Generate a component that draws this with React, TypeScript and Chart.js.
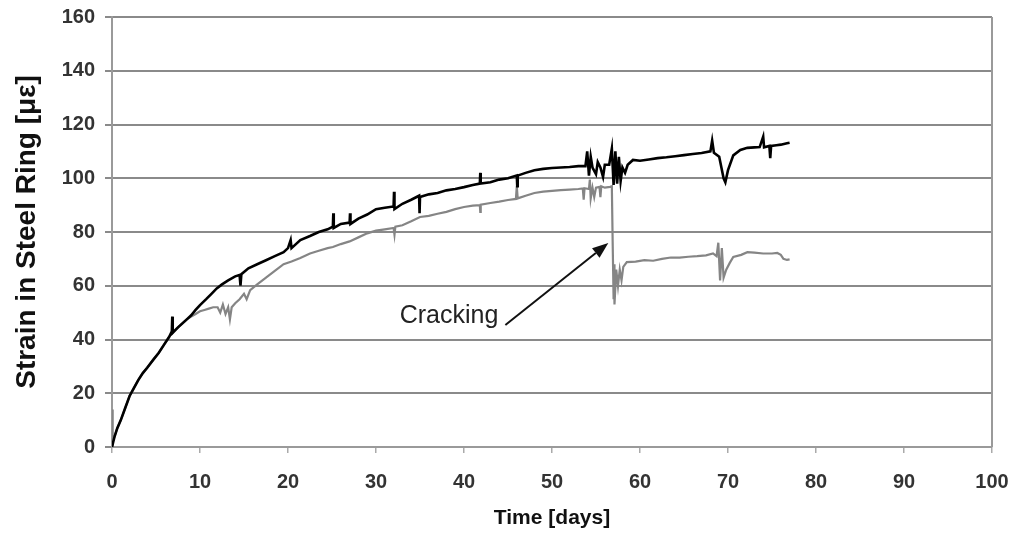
import React, { useEffect, useRef } from "react";
import { Chart, registerables } from "chart.js";

Chart.register(...registerables);

// ---- Data ----
const blackDays = [
  0, 0.3, 0.6, 1.0, 1.5, 2.0, 2.5, 3.0, 3.5, 4.0, 4.7, 5.3, 5.9, 6.5, 6.8, 6.85, 6.9, 7.5, 8.0, 8.5,
  9.0, 9.5, 10.0, 10.7, 11.3, 11.9, 12.5, 13.2, 14.0, 14.5, 14.6, 14.7, 15.5, 16.5, 17.5, 18.5, 19.5, 20.0,
  20.3, 20.4, 21.4, 22.5, 23.5, 24.5, 25.1, 25.15, 25.2, 26.0, 27.0, 27.05, 27.1, 28.0, 29.0, 30.0, 31.0,
  32.0, 32.05, 32.1, 33.0, 34.0, 34.9, 34.95, 35.0, 36.0, 37.0, 38.0, 39.0, 40.0, 41.0, 41.8, 41.85, 41.9,
  43.0, 44.0, 45.0, 46.0, 46.05, 46.1, 47.0, 48.0, 49.0, 50.0, 51.0, 52.0, 53.0, 53.8, 54.0, 54.2, 54.4,
  54.6, 55.0, 55.2, 55.5, 55.8, 56.0, 56.5, 56.8, 57.0, 57.2, 57.4, 57.6, 57.8, 58.0, 58.3, 58.6, 59.2,
  60.0, 61.0, 62.0, 63.0, 64.0, 65.0, 66.0, 67.0, 68.0, 68.2, 68.4, 69.0, 69.5, 69.7, 70.0, 70.6, 71.4,
  72.2, 73.0, 73.6, 74.0, 74.1, 74.7, 74.8, 74.9, 75.5, 76.0, 76.7, 77.0,
];
const blackStrain = [
  0, 4, 7, 10, 14.5, 19, 22, 25, 27.5, 29.5, 32.5, 35, 38, 41, 43, 48.5, 42.5, 44.5, 46, 47.5,
  49, 51, 52.8, 55, 57, 59, 60.5, 62, 63.5, 64, 60, 64.3, 66.5, 68, 69.5, 71, 72.5, 74,
  77, 74, 77, 78.5, 80, 81, 82, 87, 81.5, 83, 83.5, 87, 83, 85, 86.5, 88.5, 89,
  89.5, 95, 88.5, 90.5, 92, 93.5, 87, 93, 94, 94.5, 95.5, 96, 96.7, 97.5, 98, 102, 98,
  98.5, 99.5, 100, 101, 97, 101, 102, 103, 103.5, 103.8, 104, 104.2, 104.5, 104.5, 110, 101, 108,
  104, 101.5, 106, 104, 100.5, 105, 105, 111, 97.5, 110, 98, 108, 99, 104, 102, 105, 106.8,
  106.5, 107, 107.5, 107.8, 108.2, 108.6, 109, 109.4, 110, 114, 109.5, 108, 100, 98.5, 103, 108.5, 110.5,
  111.3, 111.5, 111.6, 115.5, 111.5, 112, 107.5, 112, 112.3, 112.5, 113, 113.2,
];

const grayDays = [
  0, 0.05, 0.1, 0.3, 0.6, 1.0, 1.5, 2.0, 2.5, 3.0, 3.5, 4.0, 4.7, 5.3, 5.9, 6.5, 7.0, 7.5, 8.0, 8.5,
  9.0, 9.5, 10.0, 10.5, 11.0, 11.5, 12.0, 12.3, 12.6, 12.9, 13.2, 13.4, 13.6, 14.0, 14.5, 15.0, 15.3, 15.7,
  16.5, 17.5, 18.5, 19.5, 20.4, 21.4, 22.5, 23.5, 24.5, 25.1, 26.0, 27.0, 28.0, 29.0, 30.0, 31.0, 32.0,
  32.1, 32.2, 33.0, 34.0, 35.0, 36.0, 37.0, 38.0, 39.0, 40.0, 41.0, 41.8, 41.85, 41.9, 43.0, 44.0, 45.0,
  45.9, 46.0, 46.1, 47.0, 48.0, 49.0, 50.0, 51.0, 52.0, 53.0, 53.5, 53.6, 53.7, 54.2, 54.3, 54.4, 54.6,
  54.8, 55.0, 55.4, 55.5, 55.6, 56.0, 56.6, 56.8, 56.9, 57.0, 57.05, 57.1, 57.3, 57.5, 57.7, 57.9, 58.1,
  58.5, 59.5, 60.5, 61.5, 62.5, 63.5, 64.5, 65.5, 66.5, 67.5, 68.3, 68.7, 68.9, 69.1, 69.3, 69.5, 69.8,
  70.2, 70.6, 71.5, 72.2, 73.0, 74.0, 75.0, 75.6, 76.0, 76.3, 76.7, 77.0,
];
const grayStrain = [
  0, 14, 2, 4, 7, 10, 14.5, 19, 22, 25, 27.5, 29.5, 32.5, 35, 38, 41, 43, 44.5, 46, 47.5,
  48.5, 49.5, 50.5, 51, 51.5, 52, 52, 50, 53, 49.5, 52, 47.5, 52, 53.5, 55, 57, 55, 58.4,
  60.5, 63, 65.5, 68, 69, 70.3, 72, 73, 74, 74.4, 75.5, 76.5, 78, 79.5, 80.5, 81, 81.5,
  79, 82, 82.5, 84, 85.6, 86, 86.8, 87.5, 88.5, 89.3, 89.8, 90, 87.5, 90.2, 90.8, 91.3, 91.9,
  92.3, 97, 92.5, 93.5, 94.5, 95, 95.3, 95.6, 95.8, 96, 96.2, 92, 96.3, 96, 99.5, 92.5, 96.5,
  93, 96.5, 96.8, 93, 97, 96.5, 96.8, 97, 75, 55, 68, 53, 66, 60, 66, 62, 67,
  68.8, 69, 69.5, 69.3, 70, 70.5, 70.5, 70.8, 71, 71.3, 72, 71, 76, 62, 74, 63, 66,
  68.5, 70.7, 71.5, 72.5, 72.3, 72, 72, 72.2, 71.5, 70, 69.6, 69.8,
];

const xTickValues = [0, 10, 20, 30, 40, 50, 60, 70, 80, 90, 100];
const yTickValues = [0, 20, 40, 60, 80, 100, 120, 140, 160];

const annotationText = "Cracking";
const annotationTextAt = { day: 43.9, value: 46.1 };
const arrowFrom = { day: 44.7, value: 45.4 };
const arrowTo = { day: 56.4, value: 75.9 };

const FONT = "'Liberation Sans', Arial, Helvetica, sans-serif";

const framePlugin = {
  id: "frameAndNote",
  beforeDatasetsDraw(chart: any) {
    const { ctx, chartArea } = chart;
    ctx.save();
    ctx.strokeStyle = "#9a9a9a";
    ctx.lineWidth = 2;
    ctx.beginPath();
    ctx.moveTo(chartArea.right, chartArea.top);
    ctx.lineTo(chartArea.right, chartArea.bottom);
    ctx.stroke();
    ctx.restore();
  },
  afterDatasetsDraw(chart: any) {
    const { ctx } = chart;
    const xs = chart.scales.x;
    const ys = chart.scales.y;
    ctx.save();
    ctx.fillStyle = "#222";
    ctx.font = `25px ${FONT}`;
    ctx.textAlign = "right";
    ctx.textBaseline = "alphabetic";
    ctx.fillText(
      annotationText,
      xs.getPixelForValue(annotationTextAt.day),
      ys.getPixelForValue(annotationTextAt.value)
    );
    const x1 = xs.getPixelForValue(arrowFrom.day);
    const y1 = ys.getPixelForValue(arrowFrom.value);
    const x2 = xs.getPixelForValue(arrowTo.day);
    const y2 = ys.getPixelForValue(arrowTo.value);
    const ang = Math.atan2(y2 - y1, x2 - x1);
    const headLen = 16;
    const headW = 6;
    const bx = x2 - headLen * Math.cos(ang);
    const by = y2 - headLen * Math.sin(ang);
    ctx.strokeStyle = "#111";
    ctx.lineWidth = 2;
    ctx.beginPath();
    ctx.moveTo(x1, y1);
    ctx.lineTo(bx, by);
    ctx.stroke();
    ctx.fillStyle = "#111";
    ctx.beginPath();
    ctx.moveTo(x2, y2);
    ctx.lineTo(bx + headW * Math.sin(ang), by - headW * Math.cos(ang));
    ctx.lineTo(bx - headW * Math.sin(ang), by + headW * Math.cos(ang));
    ctx.closePath();
    ctx.fill();
    ctx.restore();
  },
};

export default function App() {
  const canvasRef = useRef<HTMLCanvasElement | null>(null);

  useEffect(() => {
    const canvas = canvasRef.current;
    if (!canvas) return;
    const chart = new Chart(canvas, {
      type: "scatter",
      data: {
        datasets: [
          {
            label: "Ring 1",
            data: blackDays.map((d, i) => ({ x: d, y: blackStrain[i] })),
            showLine: true,
            borderColor: "#000000",
            borderWidth: 2.6,
            pointRadius: 0,
            tension: 0,
          },
          {
            label: "Ring 2",
            data: grayDays.map((d, i) => ({ x: d, y: grayStrain[i] })),
            showLine: true,
            borderColor: "#858585",
            borderWidth: 2.2,
            pointRadius: 0,
            tension: 0,
          },
        ],
      },
      options: {
        responsive: false,
        animation: false,
        devicePixelRatio: 1,
        layout: { padding: { top: 17, right: 23, left: 0, bottom: 0 } },
        plugins: {
          legend: { display: false },
          tooltip: { enabled: false },
        },
        scales: {
          x: {
            type: "linear",
            min: 0,
            max: 100,
            afterBuildTicks: (scale: any) => {
              scale.ticks = xTickValues.map((v) => ({ value: v }));
            },
            afterFit: (scale: any) => {
              scale.height = 86;
              scale.paddingLeft = 0;
              scale.paddingRight = 0;
            },
            grid: {
              drawOnChartArea: false,
              drawTicks: true,
              tickLength: 6,
              color: "#aaaaaa",
              lineWidth: 1.5,
            },
            border: { display: true, color: "#9a9a9a", width: 2 },
            ticks: {
              padding: 17,
              color: "#333",
              font: { family: FONT, size: 20, weight: "bold" },
              maxRotation: 0,
            },
            title: {
              display: true,
              text: "Time [days]",
              color: "#111",
              font: { family: FONT, size: 21, weight: "bold" },
              padding: { top: 0, bottom: 2 },
            },
          },
          y: {
            type: "linear",
            min: 0,
            max: 160,
            afterBuildTicks: (scale: any) => {
              scale.ticks = yTickValues.map((v) => ({ value: v }));
            },
            afterFit: (scale: any) => {
              scale.width = 112;
              scale.paddingTop = 0;
              scale.paddingBottom = 0;
            },
            grid: {
              drawOnChartArea: true,
              drawTicks: true,
              tickLength: 7,
              color: "#8a8a8a",
              lineWidth: 2,
            },
            border: { display: true, color: "#9a9a9a", width: 2 },
            ticks: {
              padding: 10,
              color: "#333",
              font: { family: FONT, size: 20, weight: "bold" },
            },
            title: {
              display: true,
              text: "Strain in Steel Ring [με]",
              color: "#111",
              font: { family: FONT, size: 28, weight: "bold" },
              padding: { top: 10, bottom: 0 },
            },
          },
        },
      },
      plugins: [framePlugin],
    });
    return () => chart.destroy();
  }, []);

  return (
    <div style={{ position: "fixed", left: 0, top: 0, width: 1015, height: 533, background: "#fff" }}>
      <canvas ref={canvasRef} width={1015} height={533} style={{ display: "block" }} />
    </div>
  );
}
